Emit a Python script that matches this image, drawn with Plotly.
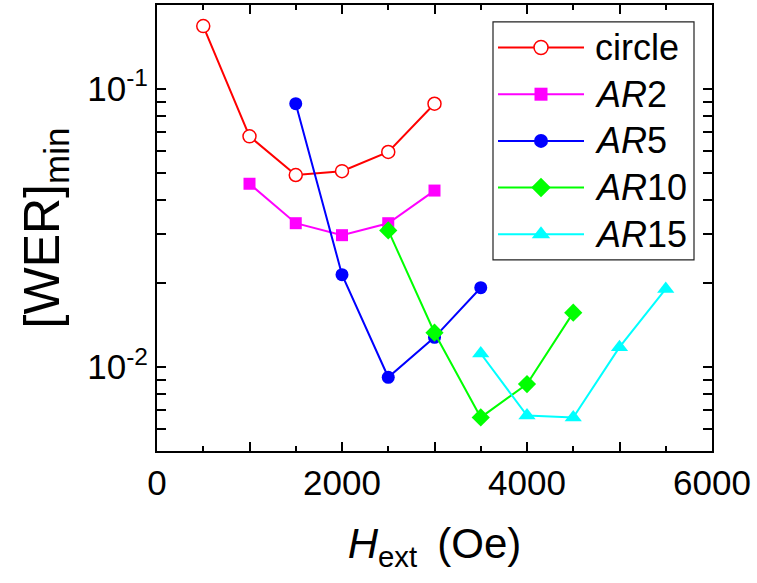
import plotly.graph_objects as go

# Field values (Oe) and minimum write error rates for each geometry
h_circle = [500, 1000, 1500, 2000, 2500, 3000]
wer_circle = [0.168, 0.0675, 0.049, 0.0506, 0.0593, 0.0884]

h_ar2 = [1000, 1500, 2000, 2500, 3000]
wer_ar2 = [0.0456, 0.0329, 0.0298, 0.0329, 0.0431]

h_ar5 = [1500, 2000, 2500, 3000, 3500]
wer_ar5 = [0.0884, 0.0215, 0.0092, 0.0128, 0.0193]

h_ar10 = [2500, 3000, 3500, 4000, 4500]
wer_ar10 = [0.031, 0.0133, 0.0066, 0.0087, 0.0157]

h_ar15 = [3500, 4000, 4500, 5000, 5500]
wer_ar15 = [0.0112, 0.0067, 0.0066, 0.0118, 0.0191]

series_names = ["circle", "<i>AR</i>2", "<i>AR</i>5", "<i>AR</i>10", "<i>AR</i>15"]
series_colors = ["#ff0000", "#ff00ff", "#0000ff", "#00ff00", "#00ffff"]
series_symbols = ["circle-open", "square", "circle", "diamond", "triangle-up"]
series_sizes = [13, 12, 13, 14, 15]

x_label_vals = [0, 2000, 4000, 6000]
x_label_text = ["0", "2000", "4000", "6000"]
x_unlabeled_vals = [1000, 3000, 5000]
y_tick_vals = [0.01, 0.1]
y_tick_text = ["10<sup>-2</sup>", "10<sup>-1</sup>"]
y_minor_vals = [0.005, 0.006, 0.007, 0.008, 0.009,
                0.02, 0.03, 0.04, 0.05, 0.06, 0.07, 0.08, 0.09, 0.2]

FONT = "Liberation Sans, Arial, sans-serif"
W, H = 757, 583
ML, MR, MT, MB = 157, 45, 3, 132
X_RANGE = [0, 6000]

fig = go.Figure()

data = [
    (h_circle, wer_circle),
    (h_ar2, wer_ar2),
    (h_ar5, wer_ar5),
    (h_ar10, wer_ar10),
    (h_ar15, wer_ar15),
]


def marker_style(sym, size, color):
    if sym == "circle-open":
        return dict(symbol="circle", size=size, color="white",
                    line=dict(color=color, width=1.5))
    return dict(symbol=sym, size=size, color=color)


for (xs, ys), name, color, sym, size in zip(
    data, series_names, series_colors, series_symbols, series_sizes
):
    fig.add_trace(go.Scatter(
        x=xs, y=ys, mode="lines+markers", name=name,
        line=dict(color=color, width=2), marker=marker_style(sym, size, color),
        showlegend=False,
    ))

# Hand-built legend box drawn on an overlay axis spanning the plot area
plot_w = W - ML - MR
plot_h = H - MT - MB
box_l, box_r, box_t, box_b = 493, 694, 20, 259
row0, row_step = 45.7, 46.9
line_l, line_r, mark_x, text_x = 498, 584, 541, 593


def px_x(p):
    return (p - ML) / plot_w


def px_y(p):
    return 1 - (p - MT) / plot_h


fig.add_shape(type="rect", xref="paper", yref="paper",
              x0=px_x(box_l), x1=px_x(box_r), y0=px_y(box_b), y1=px_y(box_t),
              line=dict(color="#222222", width=1.2), fillcolor="white", layer="below")

for i, (name, color, sym, size) in enumerate(
    zip(series_names, series_colors, series_symbols, series_sizes)
):
    yy = px_y(row0 + i * row_step)
    fig.add_trace(go.Scatter(
        x=[px_x(line_l), px_x(line_r)], y=[yy, yy], mode="lines",
        line=dict(color=color, width=2), xaxis="x2", yaxis="y2",
        showlegend=False, hoverinfo="skip",
    ))
    fig.add_trace(go.Scatter(
        x=[px_x(mark_x)], y=[yy], mode="markers",
        marker=marker_style(sym, size + 1, color),
        xaxis="x2", yaxis="y2", showlegend=False, hoverinfo="skip",
    ))
    fig.add_annotation(
        x=px_x(text_x), y=yy, xref="paper", yref="paper",
        text=name, showarrow=False, xanchor="left", yanchor="middle",
        font=dict(family=FONT, size=36, color="black"),
    )

tick_font = dict(family=FONT, size=35, color="black")
axis_common = dict(
    showline=True, linecolor="black", linewidth=2, mirror="allticks",
    ticks="inside", tickcolor="black", tickwidth=1.5, ticklen=9,
    showgrid=False, zeroline=False, tickfont=tick_font,
)

fig.update_layout(
    width=W, height=H,
    margin=dict(l=ML, r=MR, t=MT, b=MB, pad=0),
    paper_bgcolor="white", plot_bgcolor="white",
    showlegend=False,
    xaxis=dict(
        range=X_RANGE, tickmode="array",
        tickvals=x_label_vals, ticktext=x_label_text,
        minor=dict(dtick=500, tick0=0, ticks="inside", ticklen=5,
                   tickwidth=1.5, tickcolor="black", showgrid=False),
        title=dict(text="<i>H</i><sub>ext</sub>\u2009 (Oe)",
                   font=dict(family=FONT, size=42, color="black"), standoff=28),
        **axis_common,
    ),
    yaxis=dict(
        type="log", range=[-2.30103, -0.69897], tickmode="array",
        tickvals=y_tick_vals, ticktext=y_tick_text,
        minor=dict(tickvals=y_minor_vals,
                   ticks="inside", ticklen=5, tickwidth=1.5,
                   tickcolor="black", showgrid=False),
        title=dict(text="[WER]<sub>min</sub>",
                   font=dict(family=FONT, size=50, color="black"), standoff=12),
        **axis_common,
    ),
    xaxis2=dict(range=[0, 1], overlaying="x", visible=False, fixedrange=True),
    yaxis2=dict(range=[0, 1], overlaying="y", visible=False, fixedrange=True),
    # Long unlabelled ticks at the odd thousands, mirrored top and bottom
    xaxis3=dict(range=X_RANGE, overlaying="x", tickmode="array",
                tickvals=x_unlabeled_vals, showticklabels=False,
                ticks="inside", ticklen=9, tickwidth=1.5, tickcolor="black",
                showline=False, mirror="ticks", showgrid=False, zeroline=False,
                fixedrange=True),
)

# An empty trace anchors the third x axis so its ticks are drawn
fig.add_trace(go.Scatter(x=[None], y=[None], xaxis="x3", yaxis="y",
                         showlegend=False, hoverinfo="skip"))

fig.write_html("out.html")
